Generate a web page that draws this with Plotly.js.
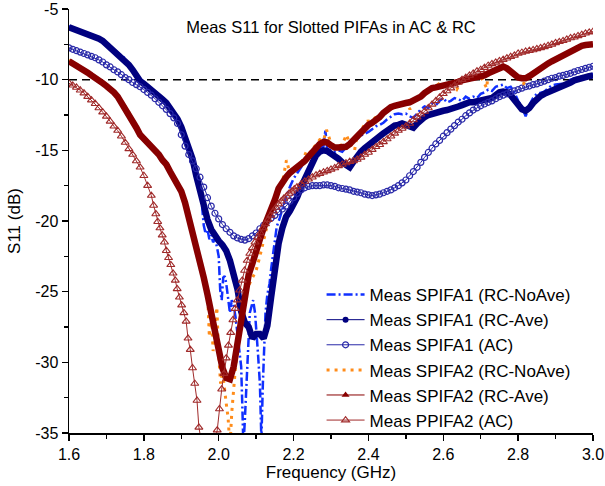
<!DOCTYPE html>
<html>
<head>
<meta charset="utf-8">
<script src="https://cdn.plot.ly/plotly-3.0.1.min.js"></script>
<style>
html,body{margin:0;padding:0;background:#fff;}
#chart{width:605px;height:486px;}
</style>
</head>
<body>
<div id="chart"></div>
<script>
// ---------- data ----------
const freqGrid = [
1.60,1.61,1.62,1.63,1.64,1.65,1.66,1.67,1.68,1.69,
1.70,1.71,1.72,1.73,1.74,1.75,1.76,1.77,1.78,1.79,
1.80,1.81,1.82,1.83,1.84,1.85,1.86,1.87,1.88,1.89,
1.90,1.91,1.92,1.93,1.94,1.95,1.96,1.97,1.98,1.99,
2.00,2.01,2.02,2.03,2.04,2.05,2.06,2.07,2.08,2.09,
2.10,2.11,2.12,2.13,2.14,2.15,2.16,2.17,2.18,2.19,
2.20,2.21,2.22,2.23,2.24,2.25,2.26,2.27,2.28,2.29,
2.30,2.31,2.32,2.33,2.34,2.35,2.36,2.37,2.38,2.39,
2.40,2.41,2.42,2.43,2.44,2.45,2.46,2.47,2.48,2.49,
2.50,2.51,2.52,2.53,2.54,2.55,2.56,2.57,2.58,2.59,
2.60,2.61,2.62,2.63,2.64,2.65,2.66,2.67,2.68,2.69,
2.70,2.71,2.72,2.73,2.74,2.75,2.76,2.77,2.78,2.79,
2.80,2.81,2.82,2.83,2.84,2.85,2.86,2.87,2.88,2.89,
2.90,2.91,2.92,2.93,2.94,2.95,2.96,2.97,2.98,2.99,
3.00];

// Meas SPIFA1 (RC-Ave)
const s1Ave = [
-6.3,-6.4,-6.45,-6.55,-6.6,-6.7,-6.8,-6.95,-7.1,-7.25,
-7.5,-7.7,-7.9,-8.1,-8.35,-8.6,-8.95,-9.3,-9.75,-10.1,
-10.3,-10.5,-10.7,-10.9,-11.1,-11.4,-11.65,-12.0,-12.4,-12.8,
-13.35,-14.0,-14.7,-15.6,-16.8,-18.0,-19.1,-19.9,-20.6,-21.1,
-21.4,-21.7,-22.1,-22.8,-23.7,-24.8,-26.4,-27.2,-27.5,-28.3,
-28.0,-28.0,-28.3,-27.4,-25.4,-23.3,-21.6,-20.5,-19.7,-19.3,
-18.9,-18.3,-17.6,-17.0,-16.4,-15.8,-15.35,-15.1,-15.0,-15.05,
-15.2,-15.4,-15.6,-15.85,-16.1,-16.2,-15.8,-15.4,-15.1,-14.85,
-14.6,-14.35,-14.15,-14.0,-13.8,-13.6,-13.4,-13.25,-13.2,-13.1,
-13.2,-13.35,-13.4,-13.1,-12.8,-12.65,-12.5,-12.4,-12.3,-12.25,
-12.2,-12.15,-12.1,-12.0,-11.9,-11.8,-11.65,-11.6,-11.6,-11.55,
-11.55,-11.5,-11.4,-11.3,-11.1,-10.9,-10.85,-10.9,-11.1,-11.45,
-11.8,-12.1,-12.2,-12.0,-11.65,-11.35,-11.15,-11.0,-10.9,-10.75,
-10.65,-10.5,-10.4,-10.3,-10.2,-10.05,-9.95,-9.85,-9.8,-9.75,
-9.7];

// Meas SPIFA1 (AC)
const s1AC = [
-7.75,-7.85,-7.95,-8.05,-8.15,-8.25,-8.35,-8.45,-8.6,-8.75,
-8.95,-9.1,-9.3,-9.45,-9.65,-9.85,-10.0,-10.2,-10.35,-10.5,
-10.7,-10.9,-11.1,-11.35,-11.6,-11.85,-12.1,-12.4,-12.7,-13.1,
-13.9,-14.7,-15.3,-15.75,-16.3,-16.9,-17.6,-18.35,-18.95,-19.45,
-19.85,-20.25,-20.55,-20.8,-21.05,-21.2,-21.3,-21.35,-21.25,-21.05,
-20.85,-20.55,-20.3,-20.0,-19.8,-19.6,-19.35,-19.15,-18.95,-18.6,
-18.35,-18.05,-17.8,-17.65,-17.55,-17.5,-17.5,-17.5,-17.45,-17.45,
-17.5,-17.55,-17.65,-17.7,-17.75,-17.8,-17.9,-17.95,-18.0,-18.1,
-18.15,-18.2,-18.15,-18.1,-18.0,-17.9,-17.8,-17.65,-17.5,-17.3,
-17.1,-16.8,-16.5,-16.2,-15.85,-15.5,-15.15,-14.85,-14.55,-14.3,
-14.0,-13.75,-13.5,-13.25,-13.0,-12.8,-12.55,-12.35,-12.15,-12.0,
-11.85,-11.72,-11.6,-11.5,-11.35,-11.2,-11.1,-11.0,-10.9,-10.8,
-10.7,-10.6,-10.5,-10.45,-10.35,-10.3,-10.2,-10.1,-10.0,-9.9,
-9.85,-9.75,-9.7,-9.62,-9.55,-9.45,-9.35,-9.28,-9.2,-9.12,
-9.05];

// Meas SPIFA2 (RC-Ave)
const s2Ave = [
-8.7,-8.85,-8.95,-9.1,-9.3,-9.5,-9.7,-9.85,-10.05,-10.25,
-10.45,-10.65,-10.9,-11.2,-11.6,-12.0,-12.4,-12.9,-13.4,-13.9,
-14.15,-14.5,-14.75,-14.95,-15.3,-15.7,-16.0,-16.5,-16.9,-17.3,
-17.9,-18.7,-19.7,-20.7,-21.75,-22.9,-24.0,-25.2,-26.5,-27.8,
-29.2,-30.4,-31.1,-31.2,-30.3,-28.6,-26.9,-25.4,-23.8,-23.0,
-22.0,-21.3,-20.5,-19.9,-19.2,-18.5,-17.7,-17.2,-16.9,-16.6,
-16.4,-16.2,-16.0,-15.75,-15.45,-15.1,-14.8,-14.55,-14.4,-14.45,
-14.65,-14.8,-14.8,-14.8,-14.75,-14.55,-14.25,-13.95,-13.7,-13.45,
-13.2,-13.05,-12.9,-12.65,-12.35,-12.1,-11.95,-11.85,-11.75,-11.7,
-11.65,-11.6,-11.5,-11.4,-11.2,-10.95,-10.75,-10.6,-10.55,-10.5,
-10.45,-10.35,-10.3,-10.2,-10.15,-10.05,-10.0,-9.95,-9.9,-9.85,
-9.8,-9.7,-9.55,-9.42,-9.3,-9.15,-9.08,-9.2,-9.45,-9.7,
-9.85,-9.9,-9.9,-9.75,-9.55,-9.35,-9.15,-9.0,-8.85,-8.7,
-8.55,-8.4,-8.25,-8.1,-7.95,-7.85,-7.7,-7.6,-7.55,-7.5,
-7.5];

// Meas PPIFA2 (AC)
const freqPP = [
1.60,1.61,1.62,1.63,1.64,1.65,1.66,1.67,1.68,1.69,
1.70,1.71,1.72,1.73,1.74,1.75,1.76,1.77,1.78,1.79,
1.80,1.81,1.820,1.826,1.832,1.837,1.843,1.849,1.855,1.860,
1.866,1.872,1.878,1.884,1.889,1.895,1.901,1.907,1.913,1.918,
1.924,1.930,1.936,1.942,1.947,1.970,1.996,2.002,2.008,2.014,
2.020,2.026,2.032,2.038,2.044,2.050,2.056,2.063,2.069,2.076,
2.083,2.090,2.097,2.104,2.111,2.118,2.125,2.132,2.139,2.146,
2.153,2.160,2.167,2.174,2.181,2.188,2.195,2.202,2.209,2.22,
2.23,2.24,2.25,2.26,2.27,2.28,2.29,2.30,2.31,2.32,
2.33,2.34,2.35,2.36,2.37,2.38,2.39,2.40,2.41,2.42,
2.43,2.44,2.45,2.46,2.47,2.48,2.49,2.50,2.51,2.52,
2.53,2.54,2.55,2.56,2.57,2.58,2.59,2.60,2.61,2.62,
2.63,2.64,2.65,2.66,2.67,2.68,2.69,2.70,2.71,2.72,
2.73,2.74,2.75,2.76,2.77,2.78,2.79,2.80,2.81,2.82,
2.83,2.84,2.85,2.86,2.87,2.88,2.89,2.90,2.91,2.92,
2.93,2.94,2.95,2.96,2.97,2.98,2.99,3.00];
const ppAC = [
-10.25,-10.4,-10.55,-10.75,-10.95,-11.2,-11.45,-11.7,-12.0,-12.3,
-12.6,-12.95,-13.3,-13.6,-14.0,-14.45,-14.9,-15.3,-15.75,-16.2,
-16.8,-17.5,-18.2,-18.9,-19.5,-20.05,-20.5,-21.0,-21.5,-22.1,
-22.6,-23.1,-23.7,-24.2,-24.8,-25.4,-25.95,-26.5,-27.1,-28.3,
-29.1,-30.4,-31.5,-32.7,-34.6,-38.0,-34.8,-33.3,-31.9,-30.8,
-29.7,-28.8,-27.9,-27.0,-26.2,-25.6,-24.9,-24.2,-23.5,-22.8,
-22.3,-21.9,-21.5,-21.15,-20.85,-20.5,-20.2,-19.9,-19.6,-19.3,
-19.05,-18.8,-18.6,-18.4,-18.25,-18.05,-17.9,-17.75,-17.6,-17.4,
-17.2,-17.05,-16.9,-16.75,-16.65,-16.55,-16.45,-16.35,-16.25,-16.1,
-16.0,-15.9,-15.8,-15.75,-15.65,-15.5,-15.3,-15.15,-14.95,-14.75,
-14.6,-14.4,-14.2,-14.0,-13.8,-13.6,-13.45,-13.3,-13.1,-12.85,
-12.65,-12.45,-12.25,-12.0,-11.75,-11.5,-11.25,-11.0,-10.8,-10.6,
-10.4,-10.2,-10.0,-9.85,-9.7,-9.55,-9.4,-9.3,-9.15,-9.0,
-8.88,-8.78,-8.68,-8.58,-8.48,-8.38,-8.28,-8.15,-8.08,-8.0,
-7.95,-7.9,-7.82,-7.75,-7.68,-7.6,-7.5,-7.4,-7.32,-7.25,
-7.15,-7.05,-7.0,-6.9,-6.82,-6.72,-6.65,-6.6];

// Meas SPIFA1 (RC-NoAve)
const freqS1NoAve = [
1.60,1.61,1.62,1.63,1.64,1.65,1.66,1.67,1.68,1.69,
1.70,1.71,1.72,1.73,1.74,1.75,1.76,1.77,1.78,1.79,
1.80,1.81,1.82,1.83,1.84,1.85,1.86,1.87,1.88,1.89,
1.90,1.91,1.92,1.93,1.94,1.95,1.955,1.96,1.965,1.97,
1.975,1.98,1.985,1.99,1.995,2.000,2.004,2.008,2.012,2.016,
2.020,2.025,2.030,2.035,2.040,2.045,2.050,2.055,2.060,2.063,
2.066,2.070,2.074,2.078,2.083,2.088,2.092,2.097,2.101,2.105,
2.110,2.114,2.118,2.121,2.125,2.130,2.136,2.140,2.145,2.150,
2.155,2.163,2.17,2.18,2.19,2.20,2.21,2.22,2.23,2.24,
2.25,2.26,2.27,2.28,2.285,2.29,2.30,2.31,2.32,2.33,
2.34,2.35,2.36,2.37,2.38,2.39,2.40,2.41,2.42,2.43,
2.44,2.45,2.46,2.47,2.48,2.49,2.50,2.51,2.52,2.53,
2.54,2.55,2.56,2.57,2.58,2.59,2.60,2.61,2.62,2.63,
2.64,2.65,2.66,2.67,2.68,2.69,2.70,2.71,2.72,2.73,
2.74,2.75,2.76,2.77,2.78,2.79,2.80,2.81,2.82,2.83,
2.84,2.85,2.86,2.87,2.88,2.89,2.90,2.91,2.92,2.93,
2.94,2.95,2.96,2.97,2.98,2.99,3.00];
const s1NoAve = [
-6.2,-6.35,-6.4,-6.5,-6.6,-6.65,-6.75,-6.9,-7.05,-7.2,
-7.45,-7.65,-7.85,-8.05,-8.3,-8.5,-8.9,-9.25,-9.7,-10.1,
-10.25,-10.45,-10.65,-10.85,-11.05,-11.35,-11.6,-11.95,-12.35,-12.75,
-13.3,-13.9,-14.6,-15.5,-16.7,-17.9,-18.8,-20.3,-20.9,-20.6,
-21.3,-21.0,-21.5,-21.3,-21.8,-22.5,-24.9,-25.6,-24.0,-23.9,
-24.4,-25.5,-26.5,-25.6,-26.0,-26.8,-28.0,-29.2,-30.3,-33.0,
-36.0,-34.0,-31.5,-28.4,-26.5,-26.0,-25.6,-26.5,-27.7,-29.4,
-31.5,-35.5,-31.5,-28.7,-26.5,-25.2,-24.4,-23.4,-22.3,-21.2,
-20.4,-19.8,-19.1,-18.3,-17.6,-17.0,-16.6,-16.2,-15.9,-15.5,
-15.3,-15.2,-14.9,-14.7,-13.6,-14.9,-15.0,-15.1,-15.0,-15.1,
-14.8,-14.6,-14.45,-14.2,-13.95,-13.85,-13.7,-13.5,-13.3,-13.2,
-13.05,-12.8,-12.6,-12.45,-12.4,-12.45,-12.4,-12.6,-12.7,-12.4,
-12.1,-11.9,-12.0,-11.7,-11.8,-11.5,-11.3,-11.6,-11.5,-11.3,
-11.4,-11.5,-11.2,-11.35,-11.2,-11.3,-11.0,-10.9,-10.7,-10.8,
-10.5,-10.4,-10.35,-10.6,-10.5,-10.9,-11.5,-11.9,-12.6,-11.8,
-11.3,-11.0,-10.9,-10.85,-10.6,-10.4,-10.35,-10.3,-10.25,-10.25,
-10.0,-9.9,-9.85,-9.75,-9.7,-9.65,-9.6];

// Meas SPIFA2 (RC-NoAve)
const freqS2NoAve = [
1.60,1.61,1.62,1.63,1.64,1.65,1.66,1.67,1.68,1.69,
1.70,1.71,1.72,1.73,1.74,1.75,1.76,1.77,1.78,1.79,
1.80,1.81,1.82,1.83,1.84,1.85,1.86,1.87,1.88,1.89,
1.90,1.91,1.92,1.93,1.94,1.95,1.96,1.97,1.975,1.98,
1.985,1.99,1.995,2.000,2.005,2.010,2.015,2.020,2.025,2.030,
2.035,2.040,2.045,2.050,2.055,2.060,2.065,2.07,2.075,2.083,
2.09,2.10,2.11,2.12,2.127,2.135,2.145,2.154,2.16,2.17,
2.181,2.19,2.20,2.208,2.22,2.234,2.24,2.25,2.26,2.27,
2.28,2.288,2.30,2.31,2.32,2.33,2.341,2.35,2.363,2.37,
2.38,2.395,2.41,2.422,2.43,2.44,2.45,2.46,2.47,2.48,
2.49,2.50,2.511,2.52,2.53,2.54,2.55,2.56,2.57,2.58,
2.591,2.60,2.61,2.62,2.636,2.65,2.66,2.67,2.68,2.69,
2.70,2.716,2.72,2.73,2.74,2.75,2.76,2.77,2.78,2.79,
2.80,2.814,2.82,2.83,2.84,2.85,2.86,2.87,2.88,2.89,
2.90,2.91,2.92,2.93,2.94,2.95,2.96,2.97,2.98,2.99,
3.00];
const s2NoAve = [
-8.6,-8.8,-8.9,-9.05,-9.25,-9.45,-9.65,-9.8,-10.0,-10.2,
-10.4,-10.6,-10.85,-11.1,-11.5,-11.9,-12.3,-12.8,-13.3,-13.8,
-14.1,-14.3,-14.65,-14.85,-15.2,-15.6,-16.0,-16.4,-16.8,-17.3,
-18.1,-18.7,-19.8,-20.6,-21.9,-22.6,-24.2,-25.0,-28.2,-26.3,
-29.2,-27.5,-26.1,-29.5,-31.5,-30.6,-32.0,-32.9,-33.9,-36.0,
-33.5,-31.5,-30.3,-29.1,-28.0,-27.25,-26.1,-25.6,-24.9,-24.4,
-24.0,-23.5,-22.5,-21.3,-20.6,-19.7,-19.0,-18.5,-17.6,-17.3,
-15.7,-16.6,-16.4,-16.3,-15.9,-15.1,-15.3,-14.9,-14.6,-14.25,
-14.3,-13.55,-14.5,-14.7,-14.7,-14.6,-13.9,-14.5,-15.0,-13.9,
-13.6,-12.95,-12.9,-12.6,-12.8,-12.3,-12.0,-11.9,-11.8,-11.7,
-11.75,-11.6,-12.1,-11.5,-11.4,-11.1,-10.9,-10.7,-10.6,-10.45,
-10.25,-10.45,-10.3,-10.25,-10.7,-10.0,-9.95,-9.9,-9.85,-9.8,
-9.75,-10.6,-9.5,-9.4,-9.25,-9.1,-9.05,-9.15,-9.4,-9.65,
-9.8,-10.35,-9.85,-9.7,-9.5,-9.3,-9.1,-8.95,-8.8,-8.65,
-8.5,-8.35,-8.2,-8.05,-7.9,-7.8,-7.65,-7.55,-7.5,-7.45,
-7.45];

const threshold = -10;
const xTickVals = [1.6,1.8,2.0,2.2,2.4,2.6,2.8,3.0];
const xTickText = ['1.6','1.8','2.0','2.2','2.4','2.6','2.8','3.0'];
const yTickVals = [-35,-30,-25,-20,-15,-10,-5];
const yTickText = ['-35','-30','-25','-20','-15','-10','-5'];

const seriesNames = [
  'Meas SPIFA1 (RC-NoAve)','Meas SPIFA1 (RC-Ave)','Meas SPIFA1 (AC)',
  'Meas SPIFA2 (RC-NoAve)','Meas SPIFA2 (RC-Ave)','Meas PPIFA2 (AC)'];

// ---------- styles ----------
const cNavy = '#00007f', cBlue = '#1030ff', cAC1 = '#2828a8';
const cOrange = '#ff8c1a', cRed = '#880000', cBrown = '#a02a2a';
const FONT = 'Liberation Sans, Arial, sans-serif';

const traces = [
  {x: freqS1NoAve, y: s1NoAve, name: seriesNames[0], mode: 'lines', legendrank: 1,
   line: {color: cBlue, width: 2.5, dash: '9px,3px,2px,3px'}},
  {x: freqGrid, y: s1Ave, name: seriesNames[1], mode: 'lines', showlegend: false,
   line: {color: cNavy, width: 6.5}},
  {x: [null], y: [null], name: seriesNames[1], mode: 'lines+markers', legendrank: 2,
   line: {color: cNavy, width: 1}, marker: {symbol: 'circle', size: 6, color: cNavy}},
  {x: freqGrid, y: s1AC, name: seriesNames[2], mode: 'lines+markers', legendrank: 3,
   line: {color: cAC1, width: 1},
   marker: {symbol: 'circle-open', size: 6, color: cAC1, line: {width: 1.2}}},
  {x: freqS2NoAve, y: s2NoAve, name: seriesNames[3], mode: 'lines', legendrank: 4,
   line: {color: cOrange, width: 3, dash: '3px,5px'}},
  {x: freqGrid, y: s2Ave, name: seriesNames[4], mode: 'lines', showlegend: false,
   line: {color: cRed, width: 6.5}},
  {x: [null], y: [null], name: seriesNames[4], mode: 'lines+markers', legendrank: 5,
   line: {color: cRed, width: 1}, marker: {symbol: 'triangle-up', size: 7, color: cRed}},
  {x: freqPP, y: ppAC, name: seriesNames[5], mode: 'lines+markers', legendrank: 6,
   line: {color: cBrown, width: 1},
   marker: {symbol: 'triangle-up-open', size: 7, color: cBrown, line: {width: 1.1}}}
];

const axisCommon = {
  showgrid: false, zeroline: false, showline: true, linecolor: '#000', linewidth: 1.5,
  ticks: 'outside', ticklen: 6, tickwidth: 1.5, tickcolor: '#000',
  tickfont: {family: FONT, size: 16, color: '#000'}, mirror: false
};

const layout = {
  width: 605, height: 486,
  margin: {l: 69, r: 12, t: 9, b: 53},
  paper_bgcolor: '#fff', plot_bgcolor: '#fff',
  font: {family: FONT, color: '#000'},
  title: {text: 'Meas S11 for Slotted PIFAs in AC &amp; RC', font: {family: FONT, size: 16.5, color: '#000'},
          xref: 'paper', x: 0.5, xanchor: 'center', yref: 'paper', y: 0.957, yanchor: 'middle'},
  xaxis: Object.assign({}, axisCommon, {
    range: [1.6, 3.0], tickmode: 'array', tickvals: xTickVals, ticktext: xTickText,
    minor: {tickmode: 'linear', tick0: 1.6, dtick: 0.1, ticks: 'outside', ticklen: 4, tickwidth: 1.5, tickcolor: '#000', showgrid: false},
    title: {text: 'Frequency (GHz)', font: {family: FONT, size: 17, color: '#000'}, standoff: 2}
  }),
  yaxis: Object.assign({}, axisCommon, {
    range: [-35, -5], tickmode: 'array', tickvals: yTickVals, ticktext: yTickText,
    minor: {tickmode: 'linear', tick0: -35, dtick: 2.5, ticks: 'outside', ticklen: 4, tickwidth: 1.5, tickcolor: '#000', showgrid: false},
    title: {text: 'S11 (dB)', font: {family: FONT, size: 17, color: '#000'}, standoff: 10}
  }),
  legend: {x: 0.482, y: 0.178, xanchor: 'left', yanchor: 'middle', itemwidth: 38,
           bgcolor: 'rgba(0,0,0,0)', borderwidth: 0,
           font: {family: FONT, size: 17, color: '#000'}, traceorder: 'normal'},
  shapes: [{type: 'line', xref: 'x', yref: 'y', x0: 1.6, x1: 3.0, y0: threshold, y1: threshold,
            layer: 'below', line: {color: '#000', width: 1.5, dash: '8px,5px'}}],
  showlegend: true
};

Plotly.newPlot('chart', traces, layout, {staticPlot: true, displayModeBar: false});
</script>
</body>
</html>
